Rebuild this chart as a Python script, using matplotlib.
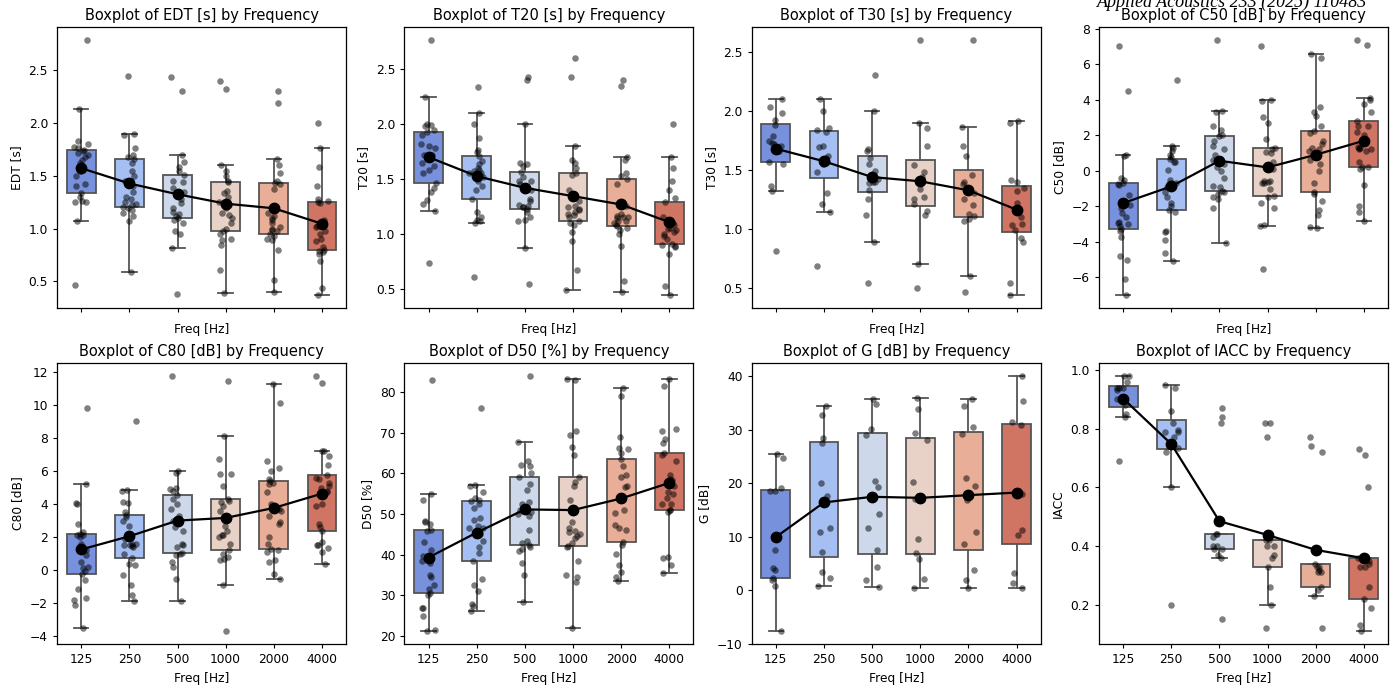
import numpy as np
import pandas as pd
import seaborn as sns
import matplotlib.pyplot as plt

freqs = ['125', '250', '500', '1000', '2000', '4000']

# one list of hall values per octave band
edt = [
    [0.47, 1.07, 1.25, 1.26, 1.25, 1.30, 1.34, 1.40, 1.42, 1.50, 1.55, 1.58, 1.62, 1.65, 1.68, 1.70, 1.72, 1.74, 1.75, 1.76, 1.77, 1.80, 1.83, 2.13, 2.79],
    [0.59, 1.07, 1.12, 1.15, 1.18, 1.20, 1.21, 1.22, 1.23, 1.25, 1.28, 1.30, 1.35, 1.40, 1.45, 1.50, 1.55, 1.62, 1.66, 1.68, 1.70, 1.76, 1.89, 1.90, 2.45],
    [0.38, 0.82, 0.95, 0.98, 1.05, 1.08, 1.10, 1.12, 1.14, 1.16, 1.20, 1.24, 1.28, 1.31, 1.35, 1.39, 1.44, 1.45, 1.51, 1.55, 1.58, 1.63, 1.70, 2.30, 2.44],
    [0.39, 0.61, 0.85, 0.89, 0.90, 0.95, 0.98, 1.00, 1.05, 1.10, 1.13, 1.15, 1.20, 1.22, 1.25, 1.30, 1.34, 1.36, 1.44, 1.45, 1.50, 1.55, 1.60, 2.32, 2.40],
    [0.40, 0.51, 0.80, 0.89, 0.90, 0.93, 0.95, 0.98, 0.99, 1.00, 1.02, 1.05, 1.08, 1.10, 1.12, 1.15, 1.38, 1.42, 1.43, 1.45, 1.53, 1.60, 1.66, 2.19, 2.30],
    [0.37, 0.44, 0.69, 0.76, 0.78, 0.79, 0.80, 0.83, 0.88, 0.90, 0.95, 0.98, 1.02, 1.03, 1.04, 1.06, 1.08, 1.24, 1.25, 1.26, 1.28, 1.40, 1.58, 1.76, 2.00],
]
t20 = [
    [0.73, 1.21, 1.27, 1.31, 1.38, 1.42, 1.46, 1.55, 1.58, 1.62, 1.65, 1.70, 1.72, 1.72, 1.78, 1.80, 1.82, 1.90, 1.93, 1.95, 1.98, 1.99, 2.00, 2.25, 2.77],
    [0.61, 1.10, 1.12, 1.13, 1.15, 1.20, 1.32, 1.40, 1.44, 1.48, 1.52, 1.55, 1.57, 1.55, 1.58, 1.60, 1.64, 1.66, 1.71, 1.75, 1.76, 1.87, 2.00, 2.10, 2.34],
    [0.54, 0.87, 1.12, 1.13, 1.15, 1.20, 1.23, 1.24, 1.24, 1.25, 1.26, 1.30, 1.32, 1.40, 1.45, 1.48, 1.48, 1.52, 1.56, 1.62, 1.64, 1.65, 2.00, 2.40, 2.43],
    [0.49, 0.67, 0.93, 1.02, 1.08, 1.10, 1.12, 1.15, 1.17, 1.18, 1.20, 1.22, 1.23, 1.24, 1.25, 1.30, 1.40, 1.54, 1.55, 1.60, 1.67, 1.65, 1.80, 2.43, 2.60],
    [0.47, 0.57, 0.89, 1.00, 1.03, 1.05, 1.07, 1.08, 1.10, 1.12, 1.15, 1.16, 1.12, 1.14, 1.15, 1.18, 1.25, 1.45, 1.50, 1.53, 1.55, 1.67, 1.70, 2.35, 2.40],
    [0.44, 0.52, 0.82, 0.88, 0.89, 0.90, 0.91, 0.95, 0.98, 1.00, 1.02, 1.03, 1.05, 1.04, 1.09, 1.08, 1.10, 1.15, 1.29, 1.33, 1.40, 1.48, 1.60, 1.70, 2.00],
]
t30 = [
    [0.81, 1.32, 1.36, 1.55, 1.57, 1.66, 1.70, 1.73, 1.74, 1.72, 1.79, 1.88, 1.92, 1.98, 2.03, 2.10],
    [0.69, 1.14, 1.21, 1.30, 1.48, 1.55, 1.57, 1.60, 1.62, 1.69, 1.70, 1.82, 1.84, 1.85, 2.00, 2.10],
    [0.54, 0.89, 1.12, 1.25, 1.33, 1.39, 1.40, 1.40, 1.42, 1.49, 1.55, 1.60, 1.66, 1.68, 2.00, 2.30],
    [0.50, 0.70, 1.12, 1.15, 1.21, 1.25, 1.27, 1.34, 1.40, 1.44, 1.48, 1.54, 1.70, 1.85, 1.90, 2.60],
    [0.47, 0.60, 1.07, 1.08, 1.11, 1.13, 1.20, 1.25, 1.30, 1.38, 1.40, 1.46, 1.62, 1.70, 1.86, 2.60],
    [0.44, 0.54, 0.89, 0.92, 0.99, 1.03, 1.04, 1.10, 1.15, 1.22, 1.32, 1.35, 1.40, 1.41, 1.90, 1.91],
]
c50 = [
    [-7.00, -6.10, -5.00, -4.80, -3.70, -3.40, -3.28, -3.10, -3.00, -2.95, -2.90, -2.60, -2.40, -2.10, -1.90, -1.35, -0.80, -0.75, -0.69, -0.50, -0.40, 0.85, 0.90, 4.48, 7.00],
    [-5.05, -4.60, -3.90, -3.45, -3.40, -2.30, -2.20, -2.00, -1.80, -1.50, -1.20, -0.90, -0.70, -0.80, -0.50, 0.03, 0.50, 0.50, 0.68, 0.80, 0.90, 1.10, 1.30, 1.37, 5.12],
    [-4.07, -2.10, -1.60, -1.50, -1.32, -1.20, -1.16, -0.90, -0.85, -0.40, 0.00, 0.20, 0.40, 0.60, 0.90, 1.20, 1.40, 1.70, 1.93, 2.00, 2.30, 2.50, 3.30, 3.38, 7.37],
    [-5.55, -3.13, -3.05, -2.10, -1.80, -1.50, -1.41, -1.00, -0.70, -0.60, -0.70, -0.65, -0.60, 0.10, 0.50, 1.00, 1.05, 1.20, 1.28, 1.80, 2.70, 3.00, 3.90, 3.96, 7.00],
    [-3.23, -3.15, -2.50, -2.20, -1.70, -1.30, -1.20, -0.70, 0.00, 0.40, 0.60, 0.90, 1.10, 1.30, 1.20, 1.50, 1.70, 2.10, 2.25, 2.50, 3.10, 3.30, 3.60, 6.35, 6.58],
    [-2.80, -2.30, -2.00, -0.80, 0.10, 0.20, 0.21, 0.50, 1.10, 1.30, 1.36, 1.20, 1.25, 1.30, 2.00, 2.20, 2.50, 2.50, 2.81, 3.30, 3.75, 4.00, 4.09, 7.09, 7.37],
]
c80 = [
    [-3.50, -2.10, -1.80, -1.70, -1.15, -0.60, -0.26, -0.05, 0.15, 0.20, 0.50, 0.90, 1.20, 1.30, 1.60, 2.00, 2.10, 2.15, 2.20, 2.30, 2.80, 4.00, 4.05, 5.22, 9.79],
    [-1.87, -1.50, -0.90, -0.30, 0.30, 0.35, 0.75, 1.00, 1.40, 1.50, 1.60, 1.45, 1.50, 1.60, 1.90, 2.70, 3.00, 3.20, 3.32, 3.50, 4.05, 4.10, 4.80, 4.85, 9.04],
    [-1.87, -0.55, 0.20, 0.50, 0.90, 1.00, 1.05, 1.40, 1.50, 1.60, 2.40, 2.60, 3.08, 3.00, 3.30, 3.70, 4.00, 4.30, 4.53, 4.80, 4.90, 5.00, 5.90, 6.00, 11.76],
    [-3.69, -0.87, 0.60, 0.70, 0.80, 1.00, 1.21, 1.60, 2.00, 2.10, 2.10, 2.40, 2.70, 3.30, 3.60, 3.90, 4.10, 4.20, 4.33, 5.11, 5.80, 5.80, 6.70, 8.10, 11.46],
    [-0.56, -0.20, 0.50, 0.60, 1.10, 1.20, 1.31, 1.60, 2.00, 2.80, 2.90, 3.30, 3.60, 3.70, 4.00, 4.76, 5.20, 5.30, 5.38, 5.50, 6.00, 6.20, 6.60, 10.10, 11.26],
    [0.38, 1.10, 1.35, 1.50, 1.55, 1.70, 2.36, 2.60, 2.80, 3.90, 4.00, 4.72, 4.80, 5.00, 5.10, 5.30, 5.50, 5.60, 5.78, 6.35, 7.20, 6.90, 7.23, 11.32, 11.76],
]
d50 = [
    [21.2, 21.5, 25.0, 26.8, 27.0, 30.0, 30.6, 31.5, 32.5, 34.5, 35.0, 38.0, 39.5, 38.5, 39.8, 41.25, 43.2, 45.8, 46.1, 47.5, 48.3, 48.0, 53.5, 55.05, 82.9],
    [26.1, 27.5, 27.8, 31.0, 32.5, 34.0, 38.35, 40.5, 42.0, 43.5, 45.0, 46.5, 47.0, 46.5, 48.5, 49.0, 51.5, 52.5, 53.2, 53.5, 54.0, 55.5, 56.8, 57.25, 76.0],
    [28.5, 35.0, 38.0, 41.0, 41.5, 42.0, 42.5, 43.0, 43.5, 46.0, 49.5, 50.0, 51.0, 50.5, 52.5, 53.0, 56.0, 57.5, 59.0, 60.0, 61.8, 62.0, 63.0, 67.7, 84.0],
    [22.05, 33.3, 34.5, 35.0, 38.5, 42.0, 42.2, 43.0, 45.5, 45.8, 46.5, 44.0, 44.5, 45.0, 48.0, 53.5, 57.0, 58.0, 59.05, 64.5, 66.5, 69.5, 70.5, 83.0, 83.1],
    [33.6, 34.5, 35.8, 37.5, 40.3, 42.5, 43.2, 46.55, 46.0, 47.3, 50.3, 51.0, 53.5, 56.6, 57.0, 59.0, 59.5, 61.8, 63.5, 65.0, 66.0, 66.3, 69.0, 79.0, 81.0],
    [35.5, 37.5, 39.3, 39.5, 50.5, 51.0, 51.0, 52.5, 52.5, 54.0, 55.0, 55.5, 57.0, 58.5, 59.5, 58.3, 63.0, 64.5, 65.0, 67.5, 68.5, 70.5, 70.8, 81.5, 83.1],
]
g = [
    [-7.63, 0.8, 2.0, 2.3, 3.8, 4.1, 7.5, 18.5, 18.6, 19.2, 24.8, 25.55],
    [0.74, 2.3, 3.5, 7.1, 10.9, 11.7, 17.7, 20.0, 27.5, 28.5, 32.8, 34.54],
    [0.56, 2.0, 4.3, 7.6, 11.6, 14.3, 19.3, 20.4, 29.1, 30.2, 34.8, 35.78],
    [0.43, 2.1, 5.9, 7.0, 9.6, 17.0, 17.6, 20.3, 28.2, 29.5, 34.0, 35.97],
    [0.43, 2.0, 3.9, 8.7, 11.0, 16.9, 19.6, 21.0, 29.3, 30.5, 34.5, 35.78],
    [0.43, 1.3, 3.3, 10.4, 11.2, 18.0, 18.35, 18.5, 31.0, 31.5, 35.4, 40.12],
]
iacc = [
    [0.69, 0.84, 0.85, 0.88, 0.90, 0.93, 0.94, 0.94, 0.94, 0.96, 0.98, 0.98],
    [0.20, 0.60, 0.72, 0.735, 0.77, 0.79, 0.795, 0.79, 0.82, 0.86, 0.94, 0.95],
    [0.15, 0.36, 0.37, 0.39, 0.39, 0.40, 0.40, 0.43, 0.44, 0.44, 0.82, 0.84, 0.87],
    [0.12, 0.20, 0.26, 0.33, 0.36, 0.37, 0.40, 0.40, 0.42, 0.42, 0.77, 0.82, 0.82],
    [0.12, 0.23, 0.25, 0.26, 0.31, 0.31, 0.32, 0.33, 0.33, 0.34, 0.72, 0.74, 0.77],
    [0.11, 0.13, 0.19, 0.22, 0.26, 0.33, 0.33, 0.34, 0.35, 0.36, 0.60, 0.71, 0.73],
]

params = [('EDT [s]', edt), ('T20 [s]', t20), ('T30 [s]', t30), ('C50 [dB]', c50),
          ('C80 [dB]', c80), ('D50 [%]', d50), ('G [dB]', g), ('IACC', iacc)]

plt.rcParams.update({'font.size': 8.8, 'axes.titlesize': 10.5, 'axes.titlepad': 5,
                     'axes.labelsize': 8.8, 'xtick.labelsize': 8.8, 'ytick.labelsize': 8.8,
                     'axes.linewidth': 0.9, 'xtick.major.size': 3, 'ytick.major.size': 3})

palette = [sns.desaturate(c, 0.75) for c in sns.color_palette('coolwarm', len(freqs))]
edge = '#555555'
rng = np.random.default_rng(3)

fig, axes = plt.subplots(2, 4, figsize=(13.93, 6.85), dpi=100)
fig.subplots_adjust(left=0.041, right=0.9964, top=0.9606, bottom=0.0599,
                    wspace=0.202, hspace=0.196)

for k, (name, vals) in enumerate(params):
    ax = axes.flat[k]
    df = pd.DataFrame({'Freq [Hz]': np.repeat(freqs, [len(v) for v in vals]),
                       name: np.concatenate(vals)})
    pos = np.arange(len(freqs))

    bp = ax.boxplot(vals, positions=pos, widths=0.6, patch_artist=True,
                    showfliers=False, medianprops={'visible': False},
                    boxprops={'edgecolor': edge, 'linewidth': 1.3},
                    whiskerprops={'color': edge, 'linewidth': 1.3},
                    capprops={'color': edge, 'linewidth': 1.3})
    for patch, col in zip(bp['boxes'], palette):
        patch.set_facecolor(col)

    # jittered raw points
    for i, v in enumerate(vals):
        xj = i + rng.uniform(-0.15, 0.15, len(v))
        ax.scatter(xj, v, s=22, color='black', alpha=0.5, linewidths=0, zorder=3)

    # mean per band
    means = df.groupby('Freq [Hz]', sort=False)[name].mean()
    ax.plot(pos, means.values, color='black', marker='o', markersize=7.5,
            linewidth=1.6, zorder=4)

    ax.set_xlim(-0.5, len(freqs) - 0.5)
    ax.set_xticks(pos)
    if k < 4:
        ax.set_xticklabels([])
    else:
        ax.set_xticklabels(freqs)
    ax.set_xlabel('Freq [Hz]')
    ax.set_ylabel(name)
    ax.set_title(f'Boxplot of {name} by Frequency')

fig.text(1097 / 1393, 1 - 7 / 685, 'Applied Acoustics 233 (2025) 110483',
         family='Liberation Serif', style='italic', fontsize=13,
         ha='left', va='baseline')

plt.savefig('out.png')
